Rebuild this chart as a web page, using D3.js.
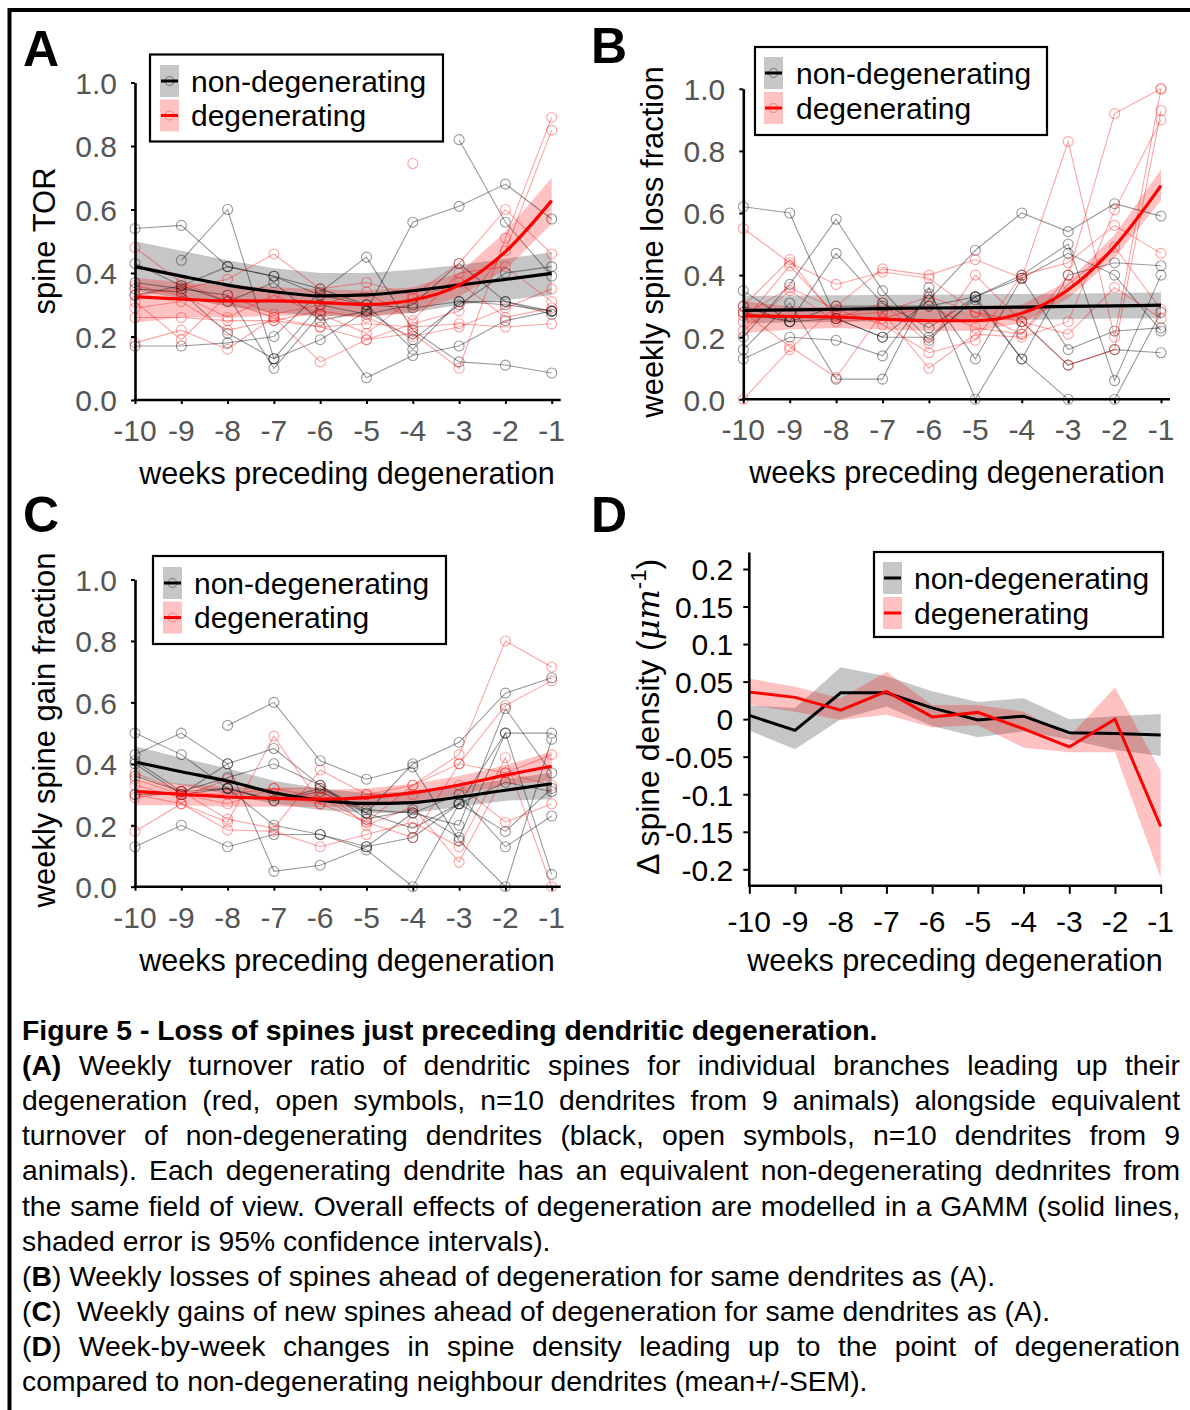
<!DOCTYPE html>
<html>
<head>
<meta charset="utf-8">
<script src="https://cdn.jsdelivr.net/npm/d3@7"></script>
<style>
  body { margin: 0; background: #fff; }
  svg { display: block; font-family: "Liberation Sans", Arial, Helvetica, sans-serif; }
</style>
</head>
<body>
<svg id="fig" width="1190" height="1410"></svg>
<script>
// weeks preceding degeneration
const weeks = [-10, -9, -8, -7, -6, -5, -4, -3, -2, -1];
const fracTicks = [0, 0.2, 0.4, 0.6, 0.8, 1.0];
const densTicks = [-0.2, -0.15, -0.1, -0.05, 0, 0.05, 0.1, 0.15, 0.2];
const densTickLabels = ["-0.2", "-0.15", "-0.1", "-0.05", "0", "0.05", "0.1", "0.15", "0.2"];

// ---- A: spine TOR ----
const torNon = [
  [0.54, 0.55, 0.42, 0.39, 0.35, 0.30, 0.29, 0.31, 0.31, 0.28],
  [null, 0.44, 0.60, 0.13, 0.19, 0.28, 0.56, 0.61, 0.68, 0.57],
  [0.37, 0.35, 0.33, 0.10, 0.27, 0.07, 0.14, 0.17, 0.25, 0.28],
  [0.17, 0.17, 0.18, 0.20, 0.34, 0.45, 0.22, 0.12, 0.11, 0.085],
  [0.33, 0.36, 0.31, 0.37, 0.25, 0.28, 0.19, 0.30, 0.40, 0.42],
  [null, null, null, null, null, null, null, 0.82, 0.56, 0.39],
  [0.35, 0.34, 0.21, 0.13, 0.30, 0.27, 0.30, 0.43, 0.31, 0.27],
  [0.43, 0.36, 0.42, 0.39, 0.33, 0.30, 0.16, 0.31, 0.30, 0.28]
];
const torDeg = [
  [0.48, 0.37, 0.31, 0.26, 0.23, 0.19, 0.24, 0.28, 0.47, 0.85],
  [0.33, 0.35, 0.38, 0.46, 0.35, 0.37, 0.33, 0.43, 0.60, 0.46],
  [0.26, 0.26, 0.25, 0.25, 0.23, 0.24, 0.23, 0.24, 0.23, 0.24],
  [0.18, 0.22, 0.16, 0.26, 0.12, 0.19, 0.21, 0.10, 0.51, 0.89],
  [0.31, 0.19, 0.33, 0.27, 0.30, 0.34, 0.25, 0.40, 0.42, 0.31],
  [0.36, 0.33, 0.26, 0.33, 0.27, 0.21, 0.32, 0.37, 0.26, 0.29],
  [null, null, null, null, null, null, 0.745, null, null, null],
  [0.29, 0.31, 0.22, 0.25, 0.28, 0.26, 0.20, 0.23, 0.29, 0.35]
];
const torFitNon   = [0.42, 0.39, 0.362, 0.341, 0.328, 0.331, 0.344, 0.362, 0.38, 0.399];
const torFitNonLo = [0.345, 0.32, 0.295, 0.275, 0.265, 0.265, 0.275, 0.30, 0.315, 0.33];
const torFitNonHi = [0.50, 0.47, 0.44, 0.415, 0.40, 0.40, 0.41, 0.425, 0.445, 0.465];
const torFitDeg   = [0.325, 0.318, 0.312, 0.312, 0.307, 0.301, 0.315, 0.362, 0.467, 0.628];
const torFitDegLo = [0.243, 0.26, 0.26, 0.265, 0.265, 0.26, 0.275, 0.325, 0.41, 0.555];
const torFitDegHi = [0.386, 0.37, 0.36, 0.355, 0.35, 0.345, 0.355, 0.40, 0.53, 0.70];

// ---- B: weekly spine loss fraction ----
const lossNon = [
  [0.62, 0.60, 0.26, 0.20, 0.32, 0.48, 0.60, 0.54, 0.63, 0.59],
  [0.35, 0.25, 0.47, 0.31, 0.23, 0.33, 0.40, 0.50, 0.06, 0.40],
  [0.20, 0.37, 0.58, 0.35, 0.19, 0.33, 0.13, 0.40, 0.44, 0.43],
  [0.13, 0.20, 0.19, 0.14, 0.34, 0.13, 0.39, 0.16, 0.22, 0.23],
  [0.16, 0.31, 0.065, 0.065, 0.36, 0.0, 0.25, 0.11, 0.16, 0.15],
  [0.30, 0.25, 0.26, 0.20, 0.20, 0.32, 0.13, 0.0, 0.0, 0.28],
  [0.28, 0.25, 0.30, 0.30, 0.30, 0.33, 0.39, 0.47, 0.40, 0.22]
];
const lossDeg = [
  [0.0, 0.16, 0.30, 0.42, 0.40, 0.45, 0.39, 0.83, 0.20, 1.0],
  [0.55, 0.44, 0.37, 0.41, 0.39, 0.28, 0.21, 0.40, 0.92, 1.0],
  [0.30, 0.45, 0.26, 0.31, 0.18, 0.40, 0.25, 0.11, 0.16, 0.93],
  [0.28, 0.17, 0.07, 0.28, 0.10, 0.21, 0.20, 0.25, 0.61, 0.90],
  [0.27, 0.36, 0.29, 0.24, 0.15, 0.19, 0.40, 0.44, 0.56, 0.47],
  [0.25, 0.43, 0.27, 0.28, 0.33, 0.28, 0.25, 0.21, 0.36, 0.26],
  [0.22, 0.35, 0.25, 0.26, 0.30, 0.23, 0.21, 0.37, 0.49, 0.29]
];
const lossFitNon   = [0.286, 0.288, 0.290, 0.292, 0.294, 0.295, 0.297, 0.299, 0.301, 0.303];
const lossFitNonLo = [0.245, 0.247, 0.249, 0.251, 0.252, 0.254, 0.256, 0.258, 0.260, 0.261];
const lossFitNonHi = [0.333, 0.334, 0.335, 0.336, 0.337, 0.338, 0.339, 0.340, 0.342, 0.344];
const lossFitDeg   = [0.269, 0.267, 0.265, 0.258, 0.253, 0.253, 0.277, 0.353, 0.492, 0.688];
const lossFitDegLo = [0.213, 0.225, 0.23, 0.225, 0.22, 0.22, 0.245, 0.325, 0.455, 0.64];
const lossFitDegHi = [0.315, 0.30, 0.295, 0.29, 0.285, 0.285, 0.305, 0.38, 0.53, 0.74];

// ---- C: weekly spine gain fraction ----
const gainNon = [
  [0.50, 0.43, 0.32, 0.28, 0.31, 0.24, 0.40, 0.47, 0.63, 0.68],
  [null, null, 0.525, 0.60, 0.41, 0.35, 0.39, 0.15, 0.0, 0.48],
  [0.41, 0.31, 0.355, 0.40, 0.33, 0.22, 0.25, 0.16, 0.50, 0.04],
  [0.36, 0.31, 0.32, 0.20, 0.17, 0.12, 0.0, 0.27, 0.34, 0.31],
  [0.13, 0.20, 0.13, 0.17, 0.17, 0.13, 0.16, 0.27, 0.50, 0.50],
  [0.43, 0.50, 0.40, 0.05, 0.07, 0.13, 0.24, 0.20, 0.58, 0.37],
  [0.30, 0.30, 0.40, 0.45, 0.33, 0.24, 0.19, 0.27, 0.18, 0.32],
  [0.40, 0.30, 0.32, 0.28, 0.32, 0.25, 0.24, 0.30, 0.13, 0.23]
];
const gainDeg = [
  [0.37, 0.31, 0.22, 0.19, 0.38, 0.30, 0.33, 0.43, 0.80, 0.715],
  [0.30, 0.27, 0.21, 0.49, 0.27, 0.21, 0.16, 0.40, 0.59, 0.67],
  [0.18, 0.27, 0.185, 0.18, 0.13, 0.17, 0.21, 0.13, 0.42, 0.0],
  [0.29, 0.31, 0.30, 0.32, 0.32, 0.20, 0.26, 0.08, 0.37, 0.43],
  [0.33, 0.29, 0.35, 0.30, 0.27, 0.30, 0.30, 0.33, 0.21, 0.27],
  [0.35, 0.30, 0.27, 0.32, 0.29, 0.21, 0.33, 0.40, 0.37, 0.33]
];
const gainFitNon   = [0.406, 0.374, 0.344, 0.306, 0.282, 0.271, 0.274, 0.292, 0.314, 0.335];
const gainFitNonLo = [0.355, 0.33, 0.30, 0.27, 0.25, 0.24, 0.24, 0.26, 0.28, 0.285];
const gainFitNonHi = [0.457, 0.42, 0.385, 0.345, 0.32, 0.305, 0.31, 0.325, 0.35, 0.371];
const gainFitDeg   = [0.31, 0.301, 0.292, 0.288, 0.285, 0.29, 0.306, 0.331, 0.363, 0.392];
const gainFitDegLo = [0.265, 0.265, 0.26, 0.26, 0.26, 0.26, 0.275, 0.30, 0.33, 0.346];
const gainFitDegHi = [0.35, 0.335, 0.325, 0.32, 0.315, 0.32, 0.335, 0.36, 0.395, 0.44];

// ---- D: change in spine density (mean +/- SEM) ----
const densNon   = [0.005, -0.015, 0.035, 0.035, 0.015, -0.001, 0.004, -0.018, -0.019, -0.021];
const densNonLo = [-0.015, -0.040, 0.0, 0.017, -0.009, -0.024, -0.016, -0.027, -0.041, -0.049];
const densNonHi = [0.018, 0.015, 0.069, 0.057, 0.037, 0.023, 0.028, 0.0, 0.004, 0.007];
const densDeg   = [0.036, 0.029, 0.012, 0.037, 0.003, 0.009, -0.013, -0.037, 0.0, -0.143];
const densDegLo = [0.019, 0.010, -0.001, 0.006, -0.011, -0.008, -0.038, -0.044, -0.044, -0.212];
const densDegHi = [0.054, 0.043, 0.028, 0.063, 0.019, 0.019, 0.010, -0.023, 0.042, -0.069];

const legendLabels = ["non-degenerating", "degenerating"];

const svg = d3.select("#fig");
svg.append("rect").attr("width", 1190).attr("height", 1410).attr("fill", "#fff");

// frame (top + left edge of the figure box)
svg.append("line").attr("x1", 9.5).attr("x2", 1190).attr("y1", 10).attr("y2", 10)
  .attr("stroke", "#000").attr("stroke-width", 4);
svg.append("line").attr("x1", 9.5).attr("x2", 9.5).attr("y1", 8).attr("y2", 1410)
  .attr("stroke", "#000").attr("stroke-width", 4);

const GREY_BAND = "rgba(128,128,128,0.45)";
const PINK_BAND = "rgba(255,0,0,0.24)";
const GREY_IND = "rgba(0,0,0,0.4)";
const PINK_IND = "rgba(255,0,0,0.36)";
const TITLE_SIZE = 31;

function panelLetter(txt, x, y) {
  svg.append("text").attr("x", x).attr("y", y)
    .attr("font-size", 50).attr("font-weight", "bold").text(txt);
}

function legend(box, withCircle) {
  const g = svg.append("g").attr("transform", `translate(${box.x},${box.y})`);
  g.append("rect").attr("width", box.w).attr("height", box.h)
    .attr("fill", "#fff").attr("stroke", "#000").attr("stroke-width", 2.2);
  const fills = [GREY_BAND, PINK_BAND];
  const strokes = ["#000", "#f00"];
  const circ = [GREY_IND, PINK_IND];
  legendLabels.forEach((lab, i) => {
    const cy = box.row0 + i * box.dy;
    g.append("rect").attr("x", box.sx).attr("y", cy - 16).attr("width", 19).attr("height", 32)
      .attr("fill", fills[i]);
    g.append("line").attr("x1", box.sx + 1).attr("x2", box.sx + 18).attr("y1", cy).attr("y2", cy)
      .attr("stroke", strokes[i]).attr("stroke-width", 3);
    if (withCircle) {
      g.append("circle").attr("cx", box.sx + 9.5).attr("cy", cy).attr("r", 4.5)
        .attr("fill", "none").attr("stroke", circ[i]).attr("stroke-width", 1);
    }
    g.append("text").attr("x", box.tx).attr("y", cy + 10.5)
      .attr("font-size", 30).attr("fill", "#000").text(lab);
  });
}

function xLabels(g, x, yBase, color) {
  g.selectAll(".xl").data(weeks).enter().append("text")
    .attr("x", d => x(d)).attr("y", yBase)
    .attr("text-anchor", "middle").attr("font-size", 30).attr("fill", color)
    .text(d => d);
}

function fracPanel(p) {
  const x = d3.scaleLinear().domain([-10, -1]).range([p.left, p.right]);
  const y = d3.scaleLinear().domain([0, 1]).range([p.bottom, p.top]);
  const g = svg.append("g");

  const band = d3.area().x((d, i) => x(weeks[i])).y0(d => y(d[0])).y1(d => y(d[1]));
  const line = d3.line().defined(d => d != null).x((d, i) => x(weeks[i])).y(d => y(d));

  g.append("path").attr("d", band(p.nonLo.map((v, i) => [v, p.nonHi[i]]))).attr("fill", GREY_BAND);
  g.append("path").attr("d", band(p.degLo.map((v, i) => [v, p.degHi[i]]))).attr("fill", PINK_BAND);

  [[p.non, GREY_IND], [p.deg, PINK_IND]].forEach(([set, col]) => {
    set.forEach(s => {
      g.append("path").attr("d", line(s)).attr("fill", "none")
        .attr("stroke", col).attr("stroke-width", 1.1);
      g.selectAll(null).data(s.map((v, i) => [weeks[i], v]).filter(d => d[1] != null))
        .enter().append("circle")
        .attr("cx", d => x(d[0])).attr("cy", d => y(d[1])).attr("r", 5)
        .attr("fill", "none").attr("stroke", col).attr("stroke-width", 1.1);
    });
  });

  g.append("path").attr("d", d3.line().curve(d3.curveMonotoneX).x((d, i) => x(weeks[i])).y(d => y(d))(p.fitNon))
    .attr("fill", "none").attr("stroke", "#000").attr("stroke-width", 3.2);
  g.append("path").attr("d", d3.line().curve(d3.curveMonotoneX).x((d, i) => x(weeks[i])).y(d => y(d))(p.fitDeg))
    .attr("fill", "none").attr("stroke", "#f00").attr("stroke-width", 3.2);

  // axes
  const ya = g.append("g").attr("transform", `translate(${p.left},0)`)
    .call(d3.axisLeft(y).tickValues(fracTicks).tickFormat(d3.format(".1f")).tickSize(4).tickSizeOuter(0).tickPadding(14));
  ya.attr("font-family", null);
  ya.select(".domain").attr("stroke-width", 2.6);
  ya.selectAll(".tick line").attr("stroke-width", 2);
  ya.selectAll(".tick text").attr("font-size", 30).attr("fill", "#555").attr("dy", "0.36em");

  const xa = g.append("g").attr("transform", `translate(0,${p.bottom})`)
    .call(d3.axisBottom(x).tickValues(weeks).tickSize(4).tickSizeOuter(0).tickFormat(""));
  xa.select(".domain").attr("d", `M${p.left - 1.3},0H${p.right + 9}`).attr("stroke-width", 2.6);
  xa.selectAll(".tick line").attr("stroke-width", 2);
  xLabels(g, x, p.bottom + 41, "#555");

  g.append("text").attr("transform", `translate(${p.titleX},${p.titleY}) rotate(-90)`)
    .attr("text-anchor", "middle").attr("font-size", TITLE_SIZE).text(p.yTitle);
  g.append("text").attr("x", p.xTitleX).attr("y", p.bottom + 84)
    .attr("text-anchor", "middle").attr("font-size", TITLE_SIZE - 0.5).text("weeks preceding degeneration");
}

fracPanel({
  left: 135, right: 551.7, bottom: 400, top: 82.5,
  non: torNon, deg: torDeg,
  fitNon: torFitNon, nonLo: torFitNonLo, nonHi: torFitNonHi,
  fitDeg: torFitDeg, degLo: torFitDegLo, degHi: torFitDegHi,
  yTitle: "spine TOR", titleX: 55, titleY: 241, xTitleX: 347
});
fracPanel({
  left: 743.3, right: 1161, bottom: 399.3, top: 88.8,
  non: lossNon, deg: lossDeg,
  fitNon: lossFitNon, nonLo: lossFitNonLo, nonHi: lossFitNonHi,
  fitDeg: lossFitDeg, degLo: lossFitDegLo, degHi: lossFitDegHi,
  yTitle: "weekly spine loss fraction", titleX: 663, titleY: 242, xTitleX: 957
});
fracPanel({
  left: 135, right: 551.7, bottom: 886.7, top: 579.5,
  non: gainNon, deg: gainDeg,
  fitNon: gainFitNon, nonLo: gainFitNonLo, nonHi: gainFitNonHi,
  fitDeg: gainFitDeg, degLo: gainFitDegLo, degHi: gainFitDegHi,
  yTitle: "weekly spine gain fraction", titleX: 55, titleY: 730, xTitleX: 347
});

// ---- panel D ----
(function () {
  const left = 749.3, right = 1160.7;
  const x = d3.scaleLinear().domain([-10, -1]).range([left, right]);
  const y = d3.scaleLinear().domain([-0.2, 0.2]).range([869.3, 569]);
  const g = svg.append("g");
  const band = d3.area().x((d, i) => x(weeks[i])).y0(d => y(d[0])).y1(d => y(d[1]));
  const line = d3.line().x((d, i) => x(weeks[i])).y(d => y(d));

  g.append("path").attr("d", band(densNonLo.map((v, i) => [v, densNonHi[i]]))).attr("fill", GREY_BAND);
  g.append("path").attr("d", band(densDegLo.map((v, i) => [v, densDegHi[i]]))).attr("fill", PINK_BAND);
  g.append("path").attr("d", line(densNon)).attr("fill", "none").attr("stroke", "#000").attr("stroke-width", 3);
  g.append("path").attr("d", line(densDeg)).attr("fill", "none").attr("stroke", "#f00").attr("stroke-width", 3);

  const ya = g.append("g").attr("transform", `translate(${left},0)`)
    .call(d3.axisLeft(y).tickValues(densTicks).tickFormat((d, i) => densTickLabels[i]).tickSize(6).tickSizeOuter(0).tickPadding(10));
  ya.attr("font-family", null);
  ya.select(".domain").attr("d", `M0,${y(0.222)}V${y(-0.222)}`).attr("stroke-width", 2.6);
  ya.selectAll(".tick line").attr("stroke-width", 2);
  ya.selectAll(".tick text").attr("font-size", 30).attr("fill", "#000").attr("dy", "0.36em");

  const xa = g.append("g").attr("transform", `translate(0,${y(-0.222)})`)
    .call(d3.axisBottom(x).tickValues(weeks).tickSize(8).tickSizeOuter(0).tickFormat(""));
  xa.select(".domain").attr("d", `M${left - 1.3},0H${right + 1.3}`).attr("stroke-width", 2.6);
  xa.selectAll(".tick line").attr("stroke-width", 2);
  xLabels(g, x, y(-0.222) + 46, "#000");

  const t = g.append("text").attr("transform", `translate(659,717) rotate(-90)`)
    .attr("text-anchor", "middle").attr("font-size", 32);
  t.append("tspan").text("\u0394 spine density (");
  t.append("tspan").attr("font-style", "italic").attr("font-family", "'DejaVu Serif', serif").text("\u03bcm");
  t.append("tspan").attr("dy", -13).attr("font-size", 22).text("-1");
  t.append("tspan").attr("dy", 13).text(")");

  g.append("text").attr("x", 955).attr("y", 971)
    .attr("text-anchor", "middle").attr("font-size", TITLE_SIZE - 0.5).text("weeks preceding degeneration");
})();

panelLetter("A", 23, 65.5);
panelLetter("B", 591, 63);
panelLetter("C", 23, 532);
panelLetter("D", 591, 532);

legend({ x: 150, y: 54.5, w: 293, h: 87, sx: 10, tx: 41, row0: 26.5, dy: 34.5 }, true);
legend({ x: 755, y: 47, w: 292, h: 88, sx: 9, tx: 41, row0: 26, dy: 35 }, true);
legend({ x: 153, y: 556, w: 293, h: 88, sx: 10, tx: 41, row0: 27, dy: 34.5 }, true);
legend({ x: 874, y: 552, w: 289, h: 85, sx: 9, tx: 40, row0: 26, dy: 35 }, false);

// ---- caption ----
const captionLines = [
  { parts: [["b", "Figure 5 - Loss of spines just preceding dendritic degeneration."]], justify: false },
  { parts: [["b", "(A)"], ["n", " Weekly turnover ratio of dendritic spines for individual branches leading up their"]], justify: true },
  { parts: [["n", "degeneration (red, open symbols, n=10 dendrites from 9 animals) alongside equivalent"]], justify: true },
  { parts: [["n", "turnover of non-degenerating dendrites (black, open symbols, n=10 dendrites from 9"]], justify: true },
  { parts: [["n", "animals). Each degenerating dendrite has an equivalent non-degenerating dednrites from"]], justify: true },
  { parts: [["n", "the same field of view. Overall effects of degeneration are modelled in a GAMM (solid lines,"]], justify: true },
  { parts: [["n", "shaded error is 95% confidence intervals)."]], justify: false },
  { parts: [["n", "("], ["b", "B"], ["n", ") Weekly losses of spines ahead of degeneration for same dendrites as (A)."]], justify: false },
  { parts: [["n", "("], ["b", "C"], ["n", ")  Weekly gains of new spines ahead of degeneration for same dendrites as (A)."]], justify: false },
  { parts: [["n", "("], ["b", "D"], ["n", ") Week-by-week changes in spine density leading up to the point of degeneration"]], justify: true },
  { parts: [["n", "compared to non-degenerating neighbour dendrites (mean+/-SEM)."]], justify: false }
];
const capLeft = 22, capRight = 1180, capTop = 1040, capStep = 35.1;

captionLines.forEach((ln, i) => {
  const t = svg.append("text").attr("x", capLeft).attr("y", capTop + i * capStep)
    .attr("font-size", 28.3).attr("fill", "#000").style("white-space", "pre");
  ln.parts.forEach(([w, s]) => {
    t.append("tspan").attr("font-weight", w === "b" ? "bold" : "normal").text(s);
  });
  if (ln.justify) {
    const full = ln.parts.map(p => p[1]).join("");
    const nSpaces = (full.match(/ /g) || []).length;
    const natural = t.node().getComputedTextLength();
    t.attr("word-spacing", (capRight - capLeft - natural) / nSpaces);
  }
});
</script>
</body>
</html>
